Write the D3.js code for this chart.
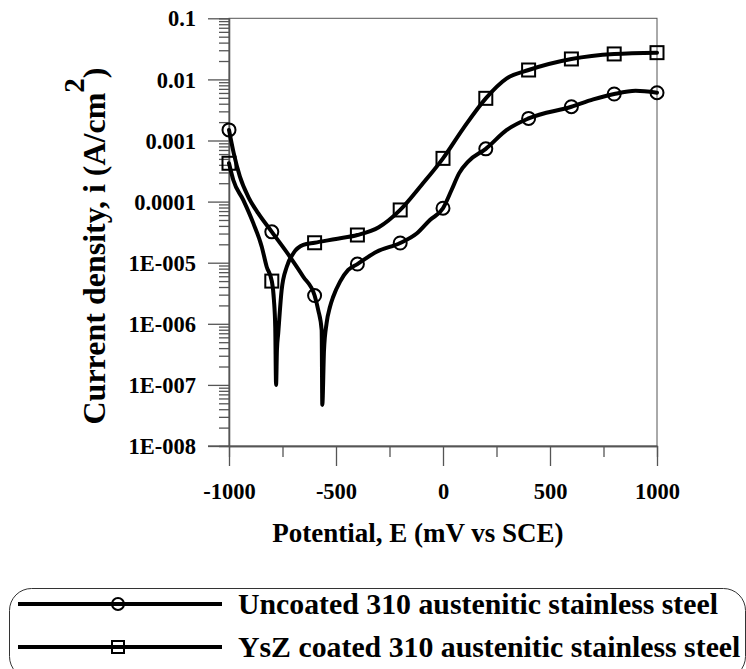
<!DOCTYPE html>
<html lang="en">
<head>
    <meta charset="UTF-8">
    <title>Polarization curves</title>
    <script src="https://d3js.org/d3.v7.min.js"></script>
    <style>
        body {
            margin: 0;
            background: #ffffff;
        }
        .axis path, .axis line {
            stroke: #555;
            stroke-width: 1.3px;
        }
        .frame {
            fill: none;
            stroke: #555;
            stroke-width: 1px;
        }
        .curve {
            fill: none;
            stroke: #000;
            stroke-width: 4px;
            stroke-linejoin: round;
            stroke-linecap: round;
        }
        .marker {
            fill: none;
            stroke: #000;
            stroke-width: 2px;
        }
    </style>
</head>
<body>
    <svg id="chart" width="746" height="669"></svg>
    <script>
        // tick labels
        var xTicks = [-1000, -500, 0, 500, 1000];
        var xMinorTicks = [-750, -250, 250, 750];
        var yTicks = [1e-8, 1e-7, 1e-6, 1e-5, 1e-4, 1e-3, 1e-2, 1e-1];
        var yTickLabels = ["1E-008", "1E-007", "1E-006", "1E-005", "0.0001", "0.001", "0.01", "0.1"];

        // marker positions (mV)
        var markerE = [-1000, -800, -600, -400, -200, 0, 200, 400, 600, 800, 1000];
        var uncoatedMarkers = [1.49e-3, 3.2e-5, 2.9e-6, 9.5e-6, 2.1e-5, 7.8e-5, 7.3e-4, 2.3e-3, 3.57e-3, 5.77e-3, 6.06e-3];
        var ysZMarkers = [4.24e-4, 5.0e-6, 2.12e-5, 2.84e-5, 7.3e-5, 5.1e-4, 4.9e-3, 1.425e-2, 2.16e-2, 2.61e-2, 2.74e-2];

        // traced curves: potential (mV) and current density (A/cm2)
        var uncoatedE = [-1000, -978, -949, -910, -863, -800, -715, -653, -600, -583, -567, -564, -556, -544,
            -528, -513, -481, -443, -400, -310, -200, -123, -61, 0, 40, 75, 120, 200, 298, 400, 600, 702, 800, 900, 1000];
        var uncoatedI = [1.49e-3, 6.2e-4, 2.56e-4, 1.2e-4, 6.4e-5, 3.2e-5, 1.25e-5, 5.9e-6, 2.9e-6, 1.68e-6, 7.9e-7, 4.7e-8, 3.7e-7, 1.02e-6,
            1.9e-6, 2.77e-6, 4.9e-6, 7.6e-6, 9.5e-6, 1.51e-5, 2.1e-5, 3.0e-5, 5.0e-5, 7.8e-5, 1.55e-4, 2.9e-4, 4.6e-4, 7.3e-4, 1.49e-3, 2.3e-3, 3.57e-3, 4.7e-3, 5.77e-3, 6.5e-3, 6.06e-3];

        var ysZE = [-1000, -980, -933, -886, -847, -824, -800, -790, -784, -780, -776, -770, -754, -730, -699, -653,
            -600, -500, -400, -300, -200, -100, 0, 95, 200, 298, 400, 600, 800, 1000];
        var ysZI = [4.24e-4, 2.26e-4, 1.06e-4, 4.4e-5, 1.83e-5, 8.6e-6, 5.0e-6, 2.45e-6, 9e-7, 1.0e-7, 3.7e-7, 7e-7, 3.57e-6, 8.6e-6, 1.43e-5, 1.95e-5,
            2.12e-5, 2.45e-5, 2.84e-5, 3.8e-5, 7.3e-5, 1.87e-4, 5.1e-4, 1.58e-3, 4.9e-3, 1.04e-2, 1.425e-2, 2.16e-2, 2.61e-2, 2.74e-2];

        var legendLabels = ["Uncoated 310 austenitic stainless steel", "YsZ coated 310 austenitic stainless steel"];

        var serif = "'Liberation Serif', 'Times New Roman', Times, 'DejaVu Serif', serif";

        var svg = d3.select("#chart")
            .attr("font-family", serif)
            .attr("font-weight", "bold");

        var x = d3.scaleLinear().domain([-1000, 1000]).range([229, 657]);
        var y = d3.scaleLog().domain([1e-8, 0.1]).range([446, 18.3]);

        // frame (top and right)
        svg.append("rect")
            .attr("class", "frame")
            .attr("x", x(-1000))
            .attr("y", y(0.1))
            .attr("width", x(1000) - x(-1000))
            .attr("height", y(1e-8) - y(0.1));

        // y axis
        var yMinor = y.ticks().filter(function(d) { return yTicks.indexOf(d) < 0; });
        svg.append("g")
            .attr("class", "axis")
            .attr("transform", "translate(" + x(-1000) + ",0)")
            .call(d3.axisLeft(y).tickValues(yMinor).tickSize(10).tickFormat(""));

        var yAxis = svg.append("g")
            .attr("class", "axis")
            .attr("transform", "translate(" + x(-1000) + ",0)")
            .call(d3.axisLeft(y).tickValues(yTicks).tickSize(21).tickSizeOuter(0).tickPadding(12)
                .tickFormat(function(d, i) { return yTickLabels[i]; }));

        // x axis
        svg.append("g")
            .attr("class", "axis")
            .attr("transform", "translate(0," + y(1e-8) + ")")
            .call(d3.axisBottom(x).tickValues(xMinorTicks).tickSize(11).tickFormat(""));

        var xAxis = svg.append("g")
            .attr("class", "axis")
            .attr("transform", "translate(0," + y(1e-8) + ")")
            .call(d3.axisBottom(x).tickValues(xTicks).tickSize(20).tickSizeOuter(0).tickPadding(17)
                .tickFormat(function(d) { return String(d); }));

        // axis groups get sans-serif 10px from d3, put the chart font back
        svg.selectAll(".axis")
            .attr("font-family", serif)
            .attr("font-size", "22.5px")
            .attr("font-weight", "bold");
        yAxis.selectAll("text").attr("dy", "0.34em");

        // axis line reaches the 1E-008 tick
        svg.append("line")
            .attr("x1", x(-1000) - 21).attr("x2", x(-1000))
            .attr("y1", y(1e-8)).attr("y2", y(1e-8))
            .attr("stroke", "#555").attr("stroke-width", 1.3);

        // axis titles
        svg.append("text")
            .attr("x", 418)
            .attr("y", 542)
            .attr("text-anchor", "middle")
            .attr("font-size", "27px")
            .text("Potential, E (mV vs SCE)");

        var yTitle = svg.append("text")
            .attr("transform", "translate(105,246) rotate(-90)")
            .attr("text-anchor", "middle")
            .attr("font-size", "32px");
        yTitle.append("tspan").text("Current density, i (A/cm");
        yTitle.append("tspan").attr("dy", "-0.72em").attr("font-size", "29px").text("2");
        yTitle.append("tspan").attr("dy", "0.64em").text(")");

        // curves
        var line = d3.line()
            .x(function(d) { return x(d[0]); })
            .y(function(d) { return y(d[1]); })
            .curve(d3.curveMonotoneX);

        var uncoated = d3.zip(uncoatedE, uncoatedI);
        var ysZ = d3.zip(ysZE, ysZI);

        svg.append("path").attr("class", "curve").attr("d", line(uncoated));
        svg.append("path").attr("class", "curve").attr("d", line(ysZ));

        svg.selectAll(".circ")
            .data(d3.zip(markerE, uncoatedMarkers))
          .enter().append("circle")
            .attr("class", "marker circ")
            .attr("cx", function(d) { return x(d[0]); })
            .attr("cy", function(d) { return y(d[1]); })
            .attr("r", 6.5);

        svg.selectAll(".sq")
            .data(d3.zip(markerE, ysZMarkers))
          .enter().append("rect")
            .attr("class", "marker sq")
            .attr("x", function(d) { return x(d[0]) - 6.5; })
            .attr("y", function(d) { return y(d[1]) - 6.5; })
            .attr("width", 13)
            .attr("height", 13);

        // legend
        svg.append("rect")
            .attr("x", 9.5).attr("y", 588.5)
            .attr("width", 736).attr("height", 90)
            .attr("rx", 22).attr("ry", 22)
            .attr("fill", "none").attr("stroke", "#333").attr("stroke-width", 1);

        var rowY = [604, 647];
        legendLabels.forEach(function(label, i) {
            svg.append("line")
                .attr("x1", 18).attr("x2", 222)
                .attr("y1", rowY[i]).attr("y2", rowY[i])
                .attr("stroke", "#000").attr("stroke-width", 4);
            if (i === 0) {
                svg.append("circle").attr("class", "marker")
                    .attr("cx", 118).attr("cy", rowY[i]).attr("r", 6);
            } else {
                svg.append("rect").attr("class", "marker")
                    .attr("x", 112).attr("y", rowY[i] - 6).attr("width", 12).attr("height", 12);
            }
            svg.append("text")
                .attr("x", 238)
                .attr("y", rowY[i] + 10)
                .attr("font-size", "29.8px")
                .text(label);
        });
    </script>
</body>
</html>
